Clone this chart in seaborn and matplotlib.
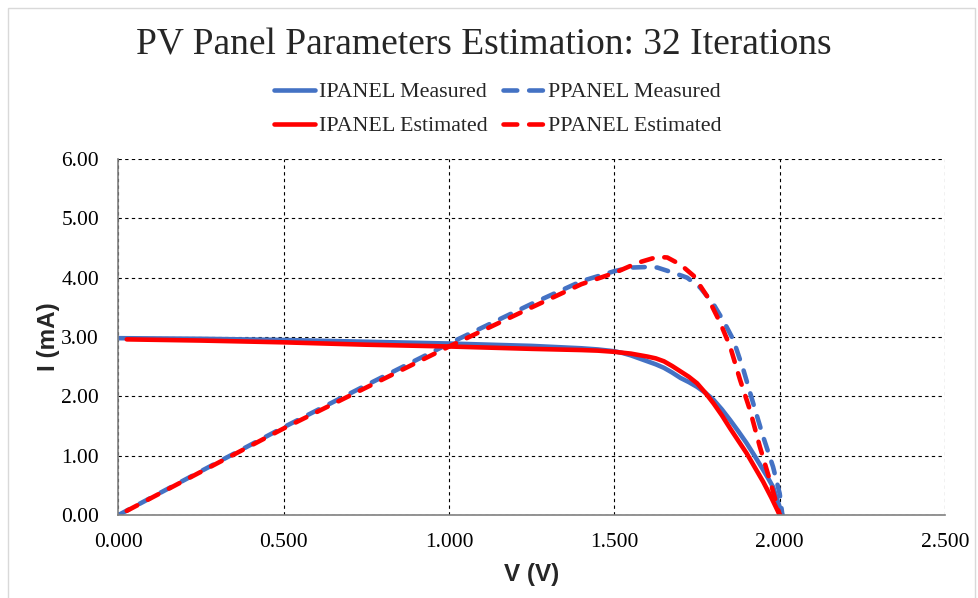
import matplotlib
matplotlib.use("Agg")
import matplotlib.pyplot as plt
import seaborn as sns
import pandas as pd
from matplotlib.patches import Rectangle
from matplotlib.lines import Line2D

# ---- data ----
V_i_meas = [0.0, 0.25, 0.5, 0.75, 1.0, 1.25, 1.4, 1.45, 1.5, 1.525, 1.55, 1.575,
            1.6, 1.625, 1.65, 1.675, 1.7, 1.725, 1.75, 1.775, 1.8, 1.825, 1.85,
            1.875, 1.9, 1.925, 1.95, 1.965, 1.98, 1.99, 2.008]
I_meas = [2.98, 2.97, 2.95, 2.92, 2.89, 2.85, 2.81, 2.79, 2.76, 2.73, 2.69, 2.64,
          2.59, 2.54, 2.48, 2.40, 2.31, 2.24, 2.16, 2.06, 1.94, 1.78, 1.60,
          1.41, 1.21, 0.99, 0.76, 0.62, 0.47, 0.30, 0.0]

V_p_meas = [0.0, 0.25, 0.5, 0.75, 1.0, 1.25, 1.4, 1.5, 1.55, 1.6, 1.63, 1.68,
            1.72, 1.76, 1.8, 1.83, 1.86, 1.89, 1.92, 1.95, 1.98, 2.0, 2.008]
P_meas = [0.0, 0.74, 1.48, 2.19, 2.89, 3.56, 3.94, 4.11, 4.17, 4.18, 4.17, 4.08,
          4.0, 3.83, 3.55, 3.27, 2.95, 2.45, 1.88, 1.32, 0.81, 0.36, 0.0]

V_i_est = [0.025, 0.25, 0.5, 0.75, 1.0, 1.25, 1.4, 1.45, 1.5, 1.55, 1.6, 1.625,
           1.65, 1.675, 1.7, 1.725, 1.75, 1.775, 1.8, 1.825, 1.85, 1.875, 1.9,
           1.925, 1.95, 1.975, 2.0]
I_est = [2.96, 2.94, 2.91, 2.87, 2.84, 2.80, 2.78, 2.77, 2.75, 2.72, 2.67, 2.64,
         2.59, 2.51, 2.42, 2.33, 2.22, 2.06, 1.88, 1.68, 1.46, 1.25, 1.04,
         0.80, 0.56, 0.29, 0.0]

V_p_est = [0.025, 0.25, 0.5, 0.75, 1.0, 1.25, 1.4, 1.5, 1.57, 1.63, 1.66, 1.7,
           1.74, 1.78, 1.82, 1.85, 1.88, 1.91, 1.94, 1.97, 2.0]
P_est = [0.07, 0.73, 1.46, 2.15, 2.84, 3.50, 3.89, 4.08, 4.25, 4.35, 4.34, 4.22,
         4.03, 3.69, 3.24, 2.84, 2.28, 1.77, 1.15, 0.59, 0.0]

x_ticks = [0.0, 0.5, 1.0, 1.5, 2.0, 2.5]
y_ticks = [0, 1, 2, 3, 4, 5, 6]

title = "PV Panel Parameters Estimation: 32 Iterations"
labels = ["IPANEL Measured", "PPANEL Measured", "IPANEL Estimated", "PPANEL Estimated"]

BLUE = "#4472C4"
RED = "#FF0000"

sns.set_theme(style="white")
plt.rcParams["font.family"] = ["Liberation Serif", "DejaVu Serif"]

fig = plt.figure(figsize=(9.79, 5.98), dpi=100)
ax = fig.add_axes([118.5 / 979, 1 - 515 / 598, (945 - 118.5) / 979, (515 - 159) / 598])

LW = 3.3
DASH = (2.6, 2.6)

def draw(x, y, color, dashed, label):
    df = pd.DataFrame({"V": x, "Y": y})
    sns.lineplot(data=df, x="V", y="Y", ax=ax, sort=False, color=color,
                 linewidth=LW, estimator=None, label=label, legend=False)
    ln = ax.lines[-1]
    ln.set_solid_capstyle("round")
    ln.set_solid_joinstyle("round")
    ln.set_dash_capstyle("round")
    ln.set_dash_joinstyle("round")
    if dashed:
        ln.set_dashes(DASH)

draw(V_p_meas, P_meas, BLUE, True, labels[1])
draw(V_i_meas, I_meas, BLUE, False, labels[0])
draw(V_p_est, P_est, RED, True, labels[3])
draw(V_i_est, I_est, RED, False, labels[2])

ax.set_xlim(0, 2.5)
ax.set_ylim(0, 6)
ax.set_xticks(x_ticks)
ax.set_yticks(y_ticks)
ax.set_xticklabels([f"{v:.3f}" for v in x_ticks], fontsize=15.5)
ax.set_yticklabels([f"{v:.2f}" for v in y_ticks], fontsize=15.5)
ax.grid(True, color="black", linestyle=(0, (3, 3)), linewidth=0.8)
ax.set_axisbelow(True)
for s in ["top", "right"]:
    ax.spines[s].set_visible(False)
for s in ["left", "bottom"]:
    ax.spines[s].set_color("#808080")
    ax.spines[s].set_linewidth(1.2)
ax.tick_params(axis="both", which="major", direction="out", length=5, width=1,
               color="#808080", labelcolor="black")
ax.tick_params(axis="y", pad=9)
ax.tick_params(axis="x", pad=8)

ax.set_xlabel("V (V)", fontsize=17.5, fontweight="bold",
              family=["Liberation Sans", "DejaVu Sans"], labelpad=8)
ax.set_ylabel("I (mA)", fontsize=17.5, fontweight="bold",
              family=["Liberation Sans", "DejaVu Sans"], labelpad=1)

fig.text(0.494, 0.925, title, ha="center", va="center", fontsize=27)

def h(color, dashed):
    l = Line2D([0], [0], color=color, linewidth=LW, solid_capstyle="round",
               dash_capstyle="round")
    if dashed:
        l.set_dashes((3.0, 2.6))
    return l

handles = [h(BLUE, False), h(RED, False), h(BLUE, True), h(RED, True)]
leg_labels = [labels[0], labels[2], labels[1], labels[3]]
fig.legend(handles, leg_labels, loc="center", bbox_to_anchor=(0.508, 0.8176),
           ncol=2, frameon=False, fontsize=15.8, handlelength=1.9,
           handletextpad=0.15, columnspacing=0.7, labelspacing=0.62)

fig.patches.append(Rectangle((8 / 979, -0.02), (975 - 8) / 979, 1.02 - 8 / 598,
                             transform=fig.transFigure, fill=False,
                             edgecolor="#D9D9D9", linewidth=1.0))

fig.savefig("out.png", dpi=100, facecolor="white")
